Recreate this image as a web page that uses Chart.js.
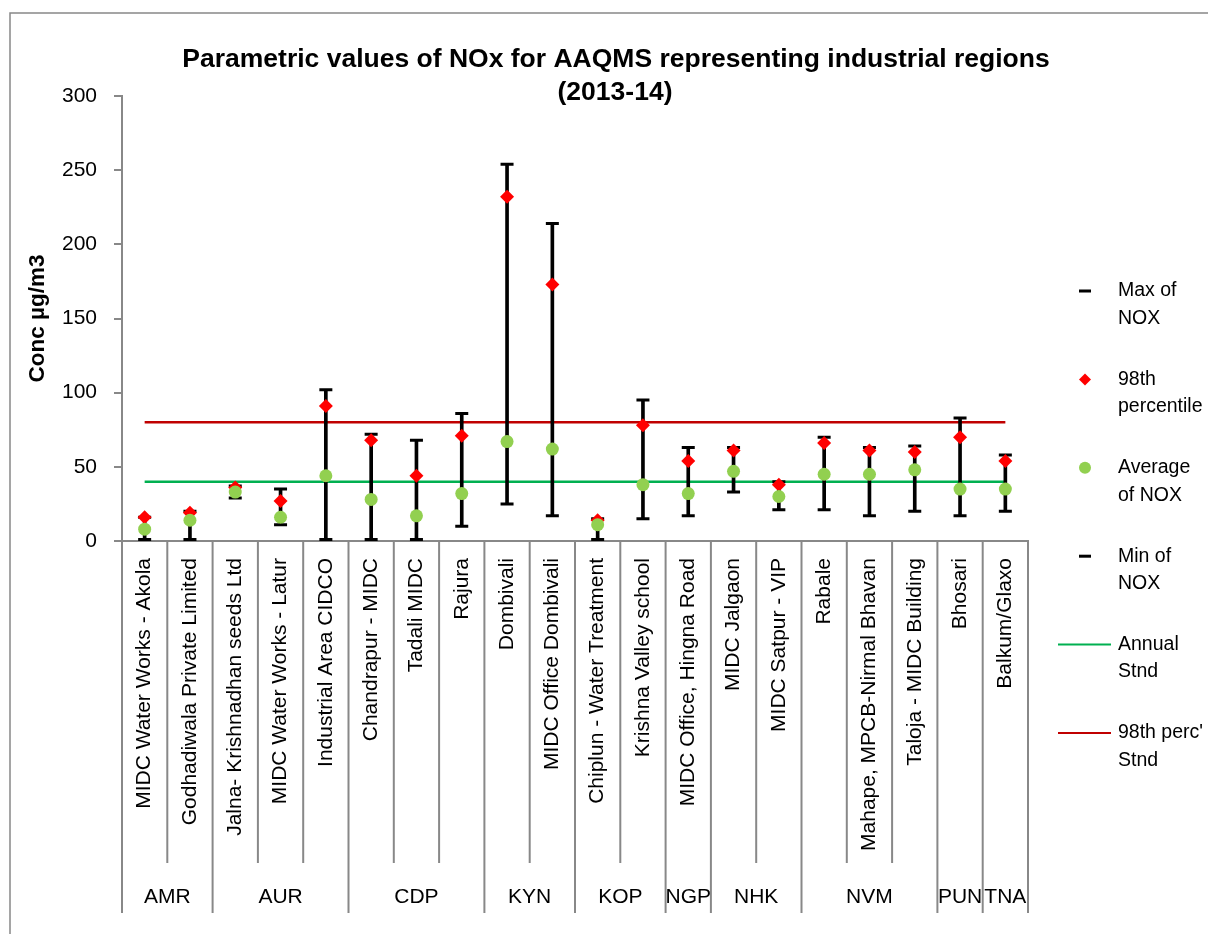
<!DOCTYPE html>
<html>
<head>
<meta charset="utf-8">
<script src="https://cdn.jsdelivr.net/npm/chart.js@4"></script>
<style>
  html, body { margin: 0; padding: 0; background: #fff; }
  #wrap { width: 1208px; height: 934px; position: relative; }
</style>
</head>
<body>
<div id="wrap"><canvas id="myCanvas"></canvas></div>
<script>
'use strict';

const stations = ['MIDC Water Works - Akola', 'Godhadiwala Private Limited', 'Jalna- Krishnadhan seeds Ltd',
  'MIDC Water Works - Latur', 'Industrial Area CIDCO', 'Chandrapur - MIDC', 'Tadali MIDC', 'Rajura',
  'Dombivali', 'MIDC Office Dombivali', 'Chiplun - Water Treatment', 'Krishna Valley school',
  'MIDC Office, Hingna Road', 'MIDC Jalgaon', 'MIDC Satpur - VIP', 'Rabale', 'Mahape, MPCB-Nirmal Bhavan',
  'Taloja - MIDC Building', 'Bhosari', 'Balkum/Glaxo'];
const regions = ['AMR', 'AUR', 'CDP', 'KYN', 'KOP', 'NGP', 'NHK', 'NVM', 'PUN', 'TNA'];
const regionSizes = [2, 3, 3, 2, 2, 1, 2, 3, 1, 1];

const maxNox = [16, 20, 37, 35, 102, 72, 68, 86, 254, 214, 15, 95, 63, 63, 40, 70, 63, 64, 83, 58];
const perc98 = [16, 19, 36, 27, 91, 68, 44, 71, 232, 173, 14, 78, 54, 61, 38, 66, 61, 60, 70, 54];
const avgNox = [8, 14, 33, 16, 44, 28, 17, 32, 67, 62, 11, 38, 32, 47, 30, 45, 45, 48, 35, 35];
const minNox = [1, 1, 29, 11, 1, 1, 1, 10, 25, 17, 1, 15, 17, 33, 21, 21, 17, 20, 17, 20];
const annualStnd = [40, 40, 40, 40, 40, 40, 40, 40, 40, 40, 40, 40, 40, 40, 40, 40, 40, 40, 40, 40];
const percStnd = [80, 80, 80, 80, 80, 80, 80, 80, 80, 80, 80, 80, 80, 80, 80, 80, 80, 80, 80, 80];
const yTicks = [0, 50, 100, 150, 200, 250, 300];

const titleLines = ['Parametric values of NOx for AAQMS representing industrial regions', '(2013-14)'];
const legendLines = [['Max of', 'NOX'], ['98th', 'percentile'], ['Average', 'of NOX'],
  ['Min of', 'NOX'], ['Annual', 'Stnd'], ["98th perc'", 'Stnd']];

// narrow font if we have it, otherwise plain Liberation Sans a bit smaller
function hasFont(name) {
  const c = document.createElement('canvas').getContext('2d');
  c.font = '40px monospace';
  const a = c.measureText('abcMWil 123').width;
  c.font = "40px '" + name + "', monospace";
  return c.measureText('abcMWil 123').width !== a;
}
const NARROW = hasFont('Liberation Sans Narrow');
const FAMILY = NARROW ? "'Liberation Sans Narrow', 'Liberation Sans', Arial" : "'Liberation Sans', Arial, sans-serif";
const K = NARROW ? 1 / 0.82 : 1;
const fs = n => Math.round(n * K * 10) / 10;

const GRAY = '#888888';

const mainCtx = document.getElementById('myCanvas').getContext('2d');

const framePlugin = {
  id: 'frame',
  beforeDraw(chart) {
    const ctx = chart.ctx;
    ctx.save();
    ctx.strokeStyle = GRAY;
    ctx.lineWidth = 1.5;
    ctx.strokeRect(10, 13, 1240, 980);
    ctx.restore();
  }
};

const titlePlugin = {
  id: 'title2',
  afterDraw(chart) {
    const ctx = chart.ctx;
    ctx.save();
    ctx.fillStyle = '#000';
    ctx.textAlign = 'center';
    ctx.textBaseline = 'alphabetic';
    ctx.font = 'bold ' + fs(26.5) + 'px ' + FAMILY;
    ctx.fillText(titleLines[0], 616, 67);
    ctx.fillText(titleLines[1], 615, 100);
    ctx.restore();
  }
};

// station separators + region row under the axis
const groupPlugin = {
  id: 'groups',
  afterDraw(chart) {
    const x = chart.scales.x;
    const ctx = chart.ctx;
    const top = x.top;
    let edges = [0];
    let n = 0;
    regionSizes.forEach(s => { n += s; edges.push(n); });
    ctx.save();
    ctx.strokeStyle = GRAY;
    ctx.lineWidth = 2;
    for (let i = 0; i <= stations.length; i++) {
      const px = x.getPixelForValue(i - 0.5);
      ctx.beginPath();
      ctx.moveTo(px, top);
      ctx.lineTo(px, edges.includes(i) ? 913 : 863);
      ctx.stroke();
    }
    ctx.fillStyle = '#000';
    ctx.textAlign = 'center';
    ctx.textBaseline = 'middle';
    ctx.font = fs(21) + 'px ' + FAMILY;
    for (let g = 0; g < regions.length; g++) {
      const a = x.getPixelForValue(edges[g] - 0.5);
      const b = x.getPixelForValue(edges[g + 1] - 0.5);
      ctx.fillText(regions[g], (a + b) / 2, 897);
    }
    ctx.restore();
  }
};

// legend on the right, two lines per entry
const legendPlugin = {
  id: 'legend2',
  afterDraw(chart) {
    const ctx = chart.ctx;
    ctx.save();
    for (let i = 0; i < legendLines.length; i++) {
      const y = 291 + i * 88.4;
      const cx = 1085;
      if (i === 0 || i === 3) {
        ctx.fillStyle = '#000';
        ctx.fillRect(cx - 6, y - 1.5, 12, 3);
      } else if (i === 1) {
        ctx.fillStyle = '#FF0000';
        ctx.beginPath();
        ctx.moveTo(cx, y - 6); ctx.lineTo(cx + 6, y); ctx.lineTo(cx, y + 6); ctx.lineTo(cx - 6, y);
        ctx.closePath();
        ctx.fill();
      } else if (i === 2) {
        ctx.fillStyle = '#92D050';
        ctx.beginPath();
        ctx.arc(cx, y, 6, 0, Math.PI * 2);
        ctx.fill();
      } else {
        ctx.strokeStyle = i === 4 ? '#00B050' : '#C00000';
        ctx.lineWidth = 2;
        ctx.beginPath();
        ctx.moveTo(1058, y); ctx.lineTo(1111, y);
        ctx.stroke();
      }
      ctx.fillStyle = '#000';
      ctx.textAlign = 'left';
      ctx.textBaseline = 'middle';
      ctx.font = fs(19.5) + 'px ' + FAMILY;
      ctx.fillText(legendLines[i][0], 1118, y);
      ctx.fillText(legendLines[i][1], 1118, y + 27.5);
    }
    ctx.restore();
  }
};

let ranges = [];
for (let i = 0; i < stations.length; i++) {
  ranges.push([minNox[i], maxNox[i]]);
}

const myChart = new Chart(mainCtx, {
  type: 'bar',
  data: {
    labels: stations,
    datasets: [
      {
        type: 'line',
        label: 'Average of NOX',
        data: avgNox,
        showLine: false,
        pointStyle: 'circle',
        pointRadius: 6.5,
        pointBackgroundColor: '#92D050',
        pointBorderWidth: 0,
        order: 0
      },
      {
        type: 'line',
        label: '98th percentile',
        data: perc98,
        showLine: false,
        pointStyle: 'rectRot',
        pointRadius: 7,
        pointBackgroundColor: '#FF0000',
        pointBorderWidth: 0,
        order: 1
      },
      {
        type: 'line',
        label: 'Max of NOX',
        data: maxNox,
        showLine: false,
        pointStyle: 'line',
        pointRadius: 6.5,
        pointBorderColor: '#000',
        pointBorderWidth: 3,
        order: 2
      },
      {
        type: 'line',
        label: 'Min of NOX',
        data: minNox,
        showLine: false,
        pointStyle: 'line',
        pointRadius: 6.5,
        pointBorderColor: '#000',
        pointBorderWidth: 3,
        order: 2
      },
      {
        type: 'bar',
        label: 'range',
        data: ranges,
        barThickness: 3,
        backgroundColor: '#000',
        borderWidth: 0,
        order: 3
      },
      {
        type: 'line',
        label: 'Annual Stnd',
        data: annualStnd,
        borderColor: '#00B050',
        borderWidth: 2.5,
        pointRadius: 0,
        order: 4
      },
      {
        type: 'line',
        label: "98th perc' Stnd",
        data: percStnd,
        borderColor: '#C00000',
        borderWidth: 2.5,
        pointRadius: 0,
        order: 4
      }
    ]
  },
  options: {
    responsive: true,
    maintainAspectRatio: false,
    animation: false,
    layout: { padding: { top: 96, right: 180, bottom: 0, left: 0 } },
    plugins: {
      legend: { display: false },
      title: { display: false },
      tooltip: { enabled: false }
    },
    scales: {
      x: {
        grid: { display: false, drawTicks: false },
        border: { display: true, color: GRAY, width: 2 },
        ticks: {
          autoSkip: false,
          maxRotation: 90,
          minRotation: 90,
          padding: 17,
          color: '#000',
          font: { family: FAMILY, size: fs(21) }
        },
        afterFit(scale) { scale.height = 393; }
      },
      y: {
        min: 0,
        max: 300,
        afterBuildTicks(scale) { scale.ticks = yTicks.map(v => ({ value: v })); },
        grid: { drawOnChartArea: false, drawTicks: true, tickLength: 8, color: GRAY, lineWidth: 2 },
        border: { display: true, color: GRAY, width: 2 },
        ticks: {
          padding: 17,
          color: '#000',
          font: { family: FAMILY, size: fs(21) }
        },
        title: {
          display: true,
          text: 'Conc µg/m3',
          color: '#000',
          font: { family: FAMILY, size: fs(22.5), weight: 'bold' },
          padding: { top: 24.5, bottom: 0 }
        },
        afterFit(scale) { scale.width = 122; }
      }
    }
  },
  plugins: [framePlugin, titlePlugin, groupPlugin, legendPlugin]
});
</script>
</body>
</html>
